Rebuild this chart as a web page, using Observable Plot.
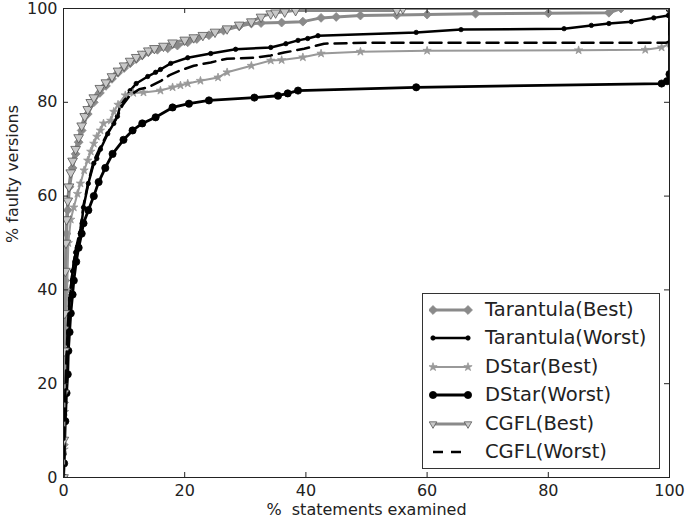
<!DOCTYPE html>
<html>
<head>
<meta charset="utf-8">
<script src="https://cdn.jsdelivr.net/npm/d3@7"></script>
<script src="https://cdn.jsdelivr.net/npm/@observablehq/plot@0.6"></script>
<style>
  html, body { margin: 0; padding: 0; background: white; }
  #wrap { position: relative; width: 685px; height: 523px; font-family: "DejaVu Sans", sans-serif; }
  svg text { white-space: pre; }
  #legend { position: absolute; left: 422px; top: 293px; width: 238px; height: 176px; border: 1px solid #333; background: white; box-sizing: border-box; }
  .row { position: absolute; left: 0; height: 28px; width: 100%; }
  .row svg { position: absolute; left: 6px; top: 0; }
  .row span { position: absolute; left: 62px; top: 0; font-size: 19.5px; color: #222; line-height: 28px; white-space: pre; }
</style>
</head>
<body>
<div id="wrap"></div>
<script>
// ---- data ----
const xTicks = [0, 20, 40, 60, 80, 100];
const yTicks = [0, 20, 40, 60, 80, 100];

const tarBestX = [0, 0.05, 0.1, 0.2, 0.3, 0.5, 0.7, 1, 1.5, 2, 2.5, 3, 4, 5, 6, 7, 8, 9, 10, 11, 12, 13, 14, 15.5, 17.2, 18.8, 20.5, 22, 24, 26.4, 29, 31, 32.6, 36, 39.5, 42.5, 45, 49, 55, 60, 68, 80, 90, 92, 100];
const tarBestY = [0, 7, 16, 32, 42, 52, 57, 62, 66, 69, 71.5, 74, 77.5, 80, 82, 83.5, 85, 86.3, 87.3, 88.3, 89.2, 90, 90.7, 91.2, 91.5, 92.1, 92.8, 93.5, 94.3, 95.3, 96.2, 96.8, 96.9, 97, 97.2, 98, 98.2, 98.5, 98.6, 98.7, 98.9, 99, 99.1, 100, 100];

const tarWorstX = [0, 0.1, 0.2, 0.3, 0.5, 0.7, 1, 1.5, 2, 2.8, 3.3, 4.1, 5, 5.5, 6.1, 7.3, 8.3, 8.9, 9.4, 10, 11, 12, 13.9, 15.2, 16, 17.7, 20.5, 24.3, 28.4, 34.2, 36.7, 38.7, 40.3, 42, 58.2, 65.6, 82.6, 87.1, 90, 93.7, 97.4, 99.8, 100];
const tarWorstY = [0, 5, 12, 18, 26, 32, 38, 44, 48, 52, 57.6, 62.7, 67, 68, 70, 73.3, 75.5, 77, 79.5, 80.5, 82.5, 84, 85.5, 86.4, 87, 88.3, 89.5, 90.4, 91.3, 91.7, 92.5, 93.2, 93.6, 94.2, 94.9, 95.5, 95.7, 96.4, 96.8, 97.2, 98, 98.5, 100];

const dstarBestX = [0, 0.1, 0.2, 0.3, 0.5, 0.6, 0.8, 1.2, 1.7, 2.3, 2.8, 3.4, 4, 4.5, 5, 5.5, 6.1, 6.6, 7.8, 8.3, 9, 10.2, 11.5, 13.2, 16, 18, 19.3, 20.5, 22.6, 25.5, 27, 31, 34.2, 36, 39.5, 42.5, 49, 60, 85, 96, 98.7, 100, 100];
const dstarBestY = [0, 6, 14, 22, 32, 40, 50, 55, 57.6, 60.5, 62.7, 65.5, 67.6, 69.5, 71.2, 72.7, 74, 75.5, 76.1, 78, 79.5, 81.5, 82, 82.1, 82.5, 83.2, 83.6, 84, 84.6, 85.3, 86.4, 87.8, 88.9, 89, 89.6, 90.4, 90.8, 91, 91.1, 91.2, 91.7, 92.5, 100];

const dstarWorstX = [0, 0.1, 0.3, 0.5, 0.7, 0.8, 1, 1.2, 1.5, 1.7, 2.1, 2.5, 3, 3.3, 4.1, 5, 5.8, 6.9, 8.1, 9.9, 11.4, 13, 15.2, 18, 20.7, 24, 31.5, 35.4, 37, 38.7, 58.2, 98.7, 99.6, 100, 100];
const dstarWorstY = [0, 3, 12, 18, 22, 27, 31, 35, 39, 42, 46, 49, 52, 54.2, 57, 60, 63, 66, 69, 72, 74, 75.5, 76.8, 78.9, 79.7, 80.4, 81, 81.4, 81.9, 82.5, 83.2, 84, 84.5, 86, 100];

const cgflBestX = [0, 0.05, 0.1, 0.15, 0.2, 0.3, 0.4, 0.5, 0.7, 0.9, 1.2, 1.5, 2, 2.5, 3, 3.5, 4, 4.5, 5, 6, 7, 8, 9, 10, 11, 12, 13, 14, 15, 16.5, 18, 20, 21.5, 23, 25, 27, 29, 31, 32.6, 34.2, 35, 36.5, 38.3, 55, 56, 100];
const cgflBestY = [0, 8, 18, 27, 35, 44, 50, 55, 59, 62, 65, 67.5, 70, 72.5, 75, 77, 78.5, 80, 81, 83, 84.2, 85.5, 86.7, 87.8, 88.8, 89.6, 90.3, 91, 91.5, 92, 92.7, 93.3, 93.8, 94.3, 95, 95.7, 96.5, 97.2, 98.2, 98.9, 99.1, 99.3, 99.6, 99.6, 100, 100];

const cgflWorstX = [0, 0.1, 0.2, 0.3, 0.5, 0.7, 1, 1.5, 2, 2.8, 3.3, 4.1, 5, 6.1, 7.3, 8.9, 9.8, 11, 12.5, 14, 16, 17.5, 19.3, 21.5, 24.3, 27, 31.4, 34.2, 36.4, 39.7, 43, 50, 99.5, 100, 100];
const cgflWorstY = [0, 5, 12, 18, 26, 32, 38, 44, 48.5, 53, 58, 63, 67.5, 70.5, 73.5, 77, 79.5, 81.5, 82.8, 83.2, 84.5, 85.8, 86.8, 87.8, 88.5, 89.3, 89.5, 90, 90.6, 91.4, 92.5, 92.7, 92.7, 93, 100];

const seriesNames = ["Tarantula(Best)", "Tarantula(Worst)", "DStar(Best)", "DStar(Worst)", "CGFL(Best)", "CGFL(Worst)"];

// ---- styles ----
const GRAY = "#8a8a8a";
const styles = [
  {stroke: GRAY, width: 3, dash: null, symbol: "diamond2", r: 4, fill: GRAY, mstroke: GRAY, rotate: 0},
  {stroke: "#000", width: 2.5, dash: null, symbol: "circle", r: 2.2, fill: "#000", mstroke: "#000", rotate: 0},
  {stroke: "#999", width: 2, dash: null, symbol: "star", r: 2.6, fill: "#999", mstroke: "#999", rotate: 0},
  {stroke: "#000", width: 2.8, dash: null, symbol: "circle", r: 3.6, fill: "#000", mstroke: "#000", rotate: 0},
  {stroke: GRAY, width: 3, dash: null, symbol: "triangle", r: 3.6, fill: "#c8c8c8", mstroke: "#555", rotate: 180},
  {stroke: "#000", width: 2.5, dash: "12,7", symbol: null}
];
const seriesData = [
  [tarBestX, tarBestY], [tarWorstX, tarWorstY], [dstarBestX, dstarBestY],
  [dstarWorstX, dstarWorstY], [cgflBestX, cgflBestY], [cgflWorstX, cgflWorstY]
];

const marks = [];
seriesData.forEach(([X, Y], i) => {
  const s = styles[i];
  marks.push(Plot.line(Y, {x: X, y: Y, stroke: s.stroke, strokeWidth: s.width, strokeDasharray: s.dash, clip: true}));
  if (s.symbol) {
    marks.push(Plot.dot(Y, {x: X, y: Y, symbol: s.symbol, r: s.r, fill: s.fill, stroke: s.mstroke, strokeWidth: 0.8, rotate: s.rotate, clip: true}));
  }
});

const FH = 523 - 8 - 46;
const FW = 685 - 63 - 16;

const chart = Plot.plot({
  width: 685, height: 523,
  marginLeft: 63, marginRight: 16, marginTop: 8, marginBottom: 46,
  x: {domain: [0, 100]},
  y: {domain: [0, 100]},
  style: {fontFamily: "DejaVu Sans, sans-serif", fontSize: "16px", color: "#222", background: "white"},
  marks: [
    ...marks,
    Plot.frame({stroke: "#222", strokeWidth: 1}),
    Plot.ruleX(xTicks, {x: d => d, insetTop: FH - 5, stroke: "#222"}),
    Plot.ruleX(xTicks, {x: d => d, insetBottom: FH - 5, stroke: "#222"}),
    Plot.ruleY(yTicks, {y: d => d, insetRight: FW - 5, stroke: "#222"}),
    Plot.ruleY(yTicks, {y: d => d, insetLeft: FW - 5, stroke: "#222"}),
    Plot.axisX({ticks: xTicks, tickSize: 0, tickPadding: 7, label: null, fill: "#222", fontSize: 16}),
    Plot.axisY({ticks: yTicks, tickSize: 0, tickPadding: 6, label: null, fill: "#222", fontSize: 16}),
    Plot.text(["%  statements examined"], {frameAnchor: "bottom", dy: 37, fill: "#222", fontSize: 16}),
    Plot.text(["% faulty versions"], {frameAnchor: "left", dx: -51, rotate: -90, fill: "#222", fontSize: 16})
  ]
});

const wrap = document.getElementById("wrap");
wrap.appendChild(chart);

// ---- legend ----
const legend = document.createElement("div");
legend.id = "legend";
const symMap = {diamond2: d3.symbolDiamond2, circle: d3.symbolCircle, star: d3.symbolStar, triangle: d3.symbolTriangle2};
seriesNames.forEach((name, i) => {
  const s = styles[i];
  const row = document.createElement("div");
  row.className = "row";
  row.style.top = (2 + i * 28.4) + "px";
  const svg = d3.create("svg").attr("width", 50).attr("height", 28);
  svg.append("line").attr("x1", 4).attr("x2", 39).attr("y1", 14).attr("y2", 14)
    .attr("stroke", s.stroke).attr("stroke-width", s.width)
    .attr("stroke-dasharray", s.dash ? "10,8" : null);
  if (s.symbol) {
    const path = d3.symbol(symMap[s.symbol], Math.PI * s.r * s.r)();
    [4, 39].forEach(cx => {
      svg.append("path").attr("d", path)
        .attr("transform", `translate(${cx},14) rotate(${s.rotate})`)
        .attr("fill", s.fill).attr("stroke", s.mstroke).attr("stroke-width", 0.8);
    });
  }
  row.appendChild(svg.node());
  const span = document.createElement("span");
  span.textContent = name;
  row.appendChild(span);
  legend.appendChild(row);
});
wrap.appendChild(legend);
</script>
</body>
</html>
